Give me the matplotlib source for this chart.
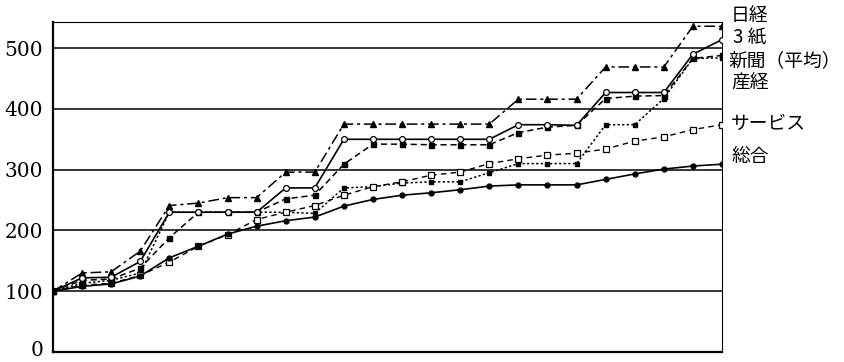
import matplotlib
matplotlib.use("Agg")
import matplotlib.pyplot as plt
from matplotlib.transforms import ScaledTranslation
import numpy as np

# ---- data ----
periods = list(range(24))
nikkei  = [100,130,132,166,241,245,254,254,296,296,375,375,375,375,375,375,416,416,416,469,469,469,536,536]
sanshi  = [100,122,123,149,230,230,230,230,270,270,350,350,350,350,350,350,374,374,373,427,427,427,490,514]
shinbun = [100,118,120,138,188,230,230,230,252,258,309,342,342,341,341,341,361,370,373,417,421,422,483,488]
sankei  = [100,113,118,130,230,230,230,230,230,228,270,272,278,280,280,295,310,310,310,374,374,417,483,484]
service = [100,110,113,126,148,174,193,218,230,241,258,272,280,291,296,310,318,324,327,334,347,354,366,374]
sogo    = [100,108,112,125,155,174,194,207,216,222,240,251,258,262,267,273,275,275,275,284,293,301,306,309]
labels  = ["日経", "3 紙", "新聞（平均）", "産経", "サービス", "総合"]
yticks  = [0, 100, 200, 300, 400, 500]

# ---- layout ----
fig = plt.figure(figsize=(8.45, 3.62), dpi=100)
ax = fig.add_axes([53/845, 1-352/362, (722-53)/845, (352-22)/362])

k = 'black'
ax.plot(periods, nikkei, color=k, lw=1.1, dashes=(7, 2.5, 2, 2.5), marker='^', ms=4, mfc=k, zorder=5)
ax.plot(periods, sanshi, color=k, lw=1.2, ls='-', marker='o', ms=4.2, mfc='white', mew=0.9, zorder=6)
ax.plot(periods, shinbun, color=k, lw=1.1, dashes=(4, 2.5), marker='s', ms=3.6, mfc=k, zorder=5)
ax.plot(periods, sankei, color=k, lw=1.1, dashes=(1.5, 1.5), marker='s', ms=3.0, mfc=k, zorder=4)
ax.plot(periods, service, color=k, lw=1.0, dashes=(4, 3), marker='s', ms=4.2, mfc='white', mew=0.9, zorder=4)
ax.plot(periods, sogo, color=k, lw=1.2, ls='-', marker='o', ms=3.5, mfc=k, zorder=6)

ax.set_xlim(0, 23)
ax.set_ylim(0, 543)
ax.set_yticks(yticks)
ax.set_yticklabels([str(v) for v in yticks], fontfamily='DejaVu Serif', fontsize=14.5)
ax.set_xticks([])
ax.tick_params(axis='y', length=0, pad=7)
lbl0 = ax.get_yticklabels()[0]
lbl0.set_transform(lbl0.get_transform() + ScaledTranslation(0, 3/100, fig.dpi_scale_trans))
ax.yaxis.grid(True, color=k, lw=1.1)
ax.set_axisbelow(True)
for side in ['left', 'bottom']:
    ax.spines[side].set_linewidth(1.6)
for side in ['top', 'right']:
    ax.spines[side].set_linewidth(0.8)

label_px_y = [15, 38, 61, 83, 123, 157]
label_px_x = [731, 733, 728, 731, 731, 731]
for t, px, py in zip(labels, label_px_x, label_px_y):
    fig.text(px/845, 1-py/362, t, ha='left', va='center', fontsize=13.5,
             family=['Noto Sans CJK JP', 'DejaVu Sans'])

fig.savefig("out.png", dpi=100)
